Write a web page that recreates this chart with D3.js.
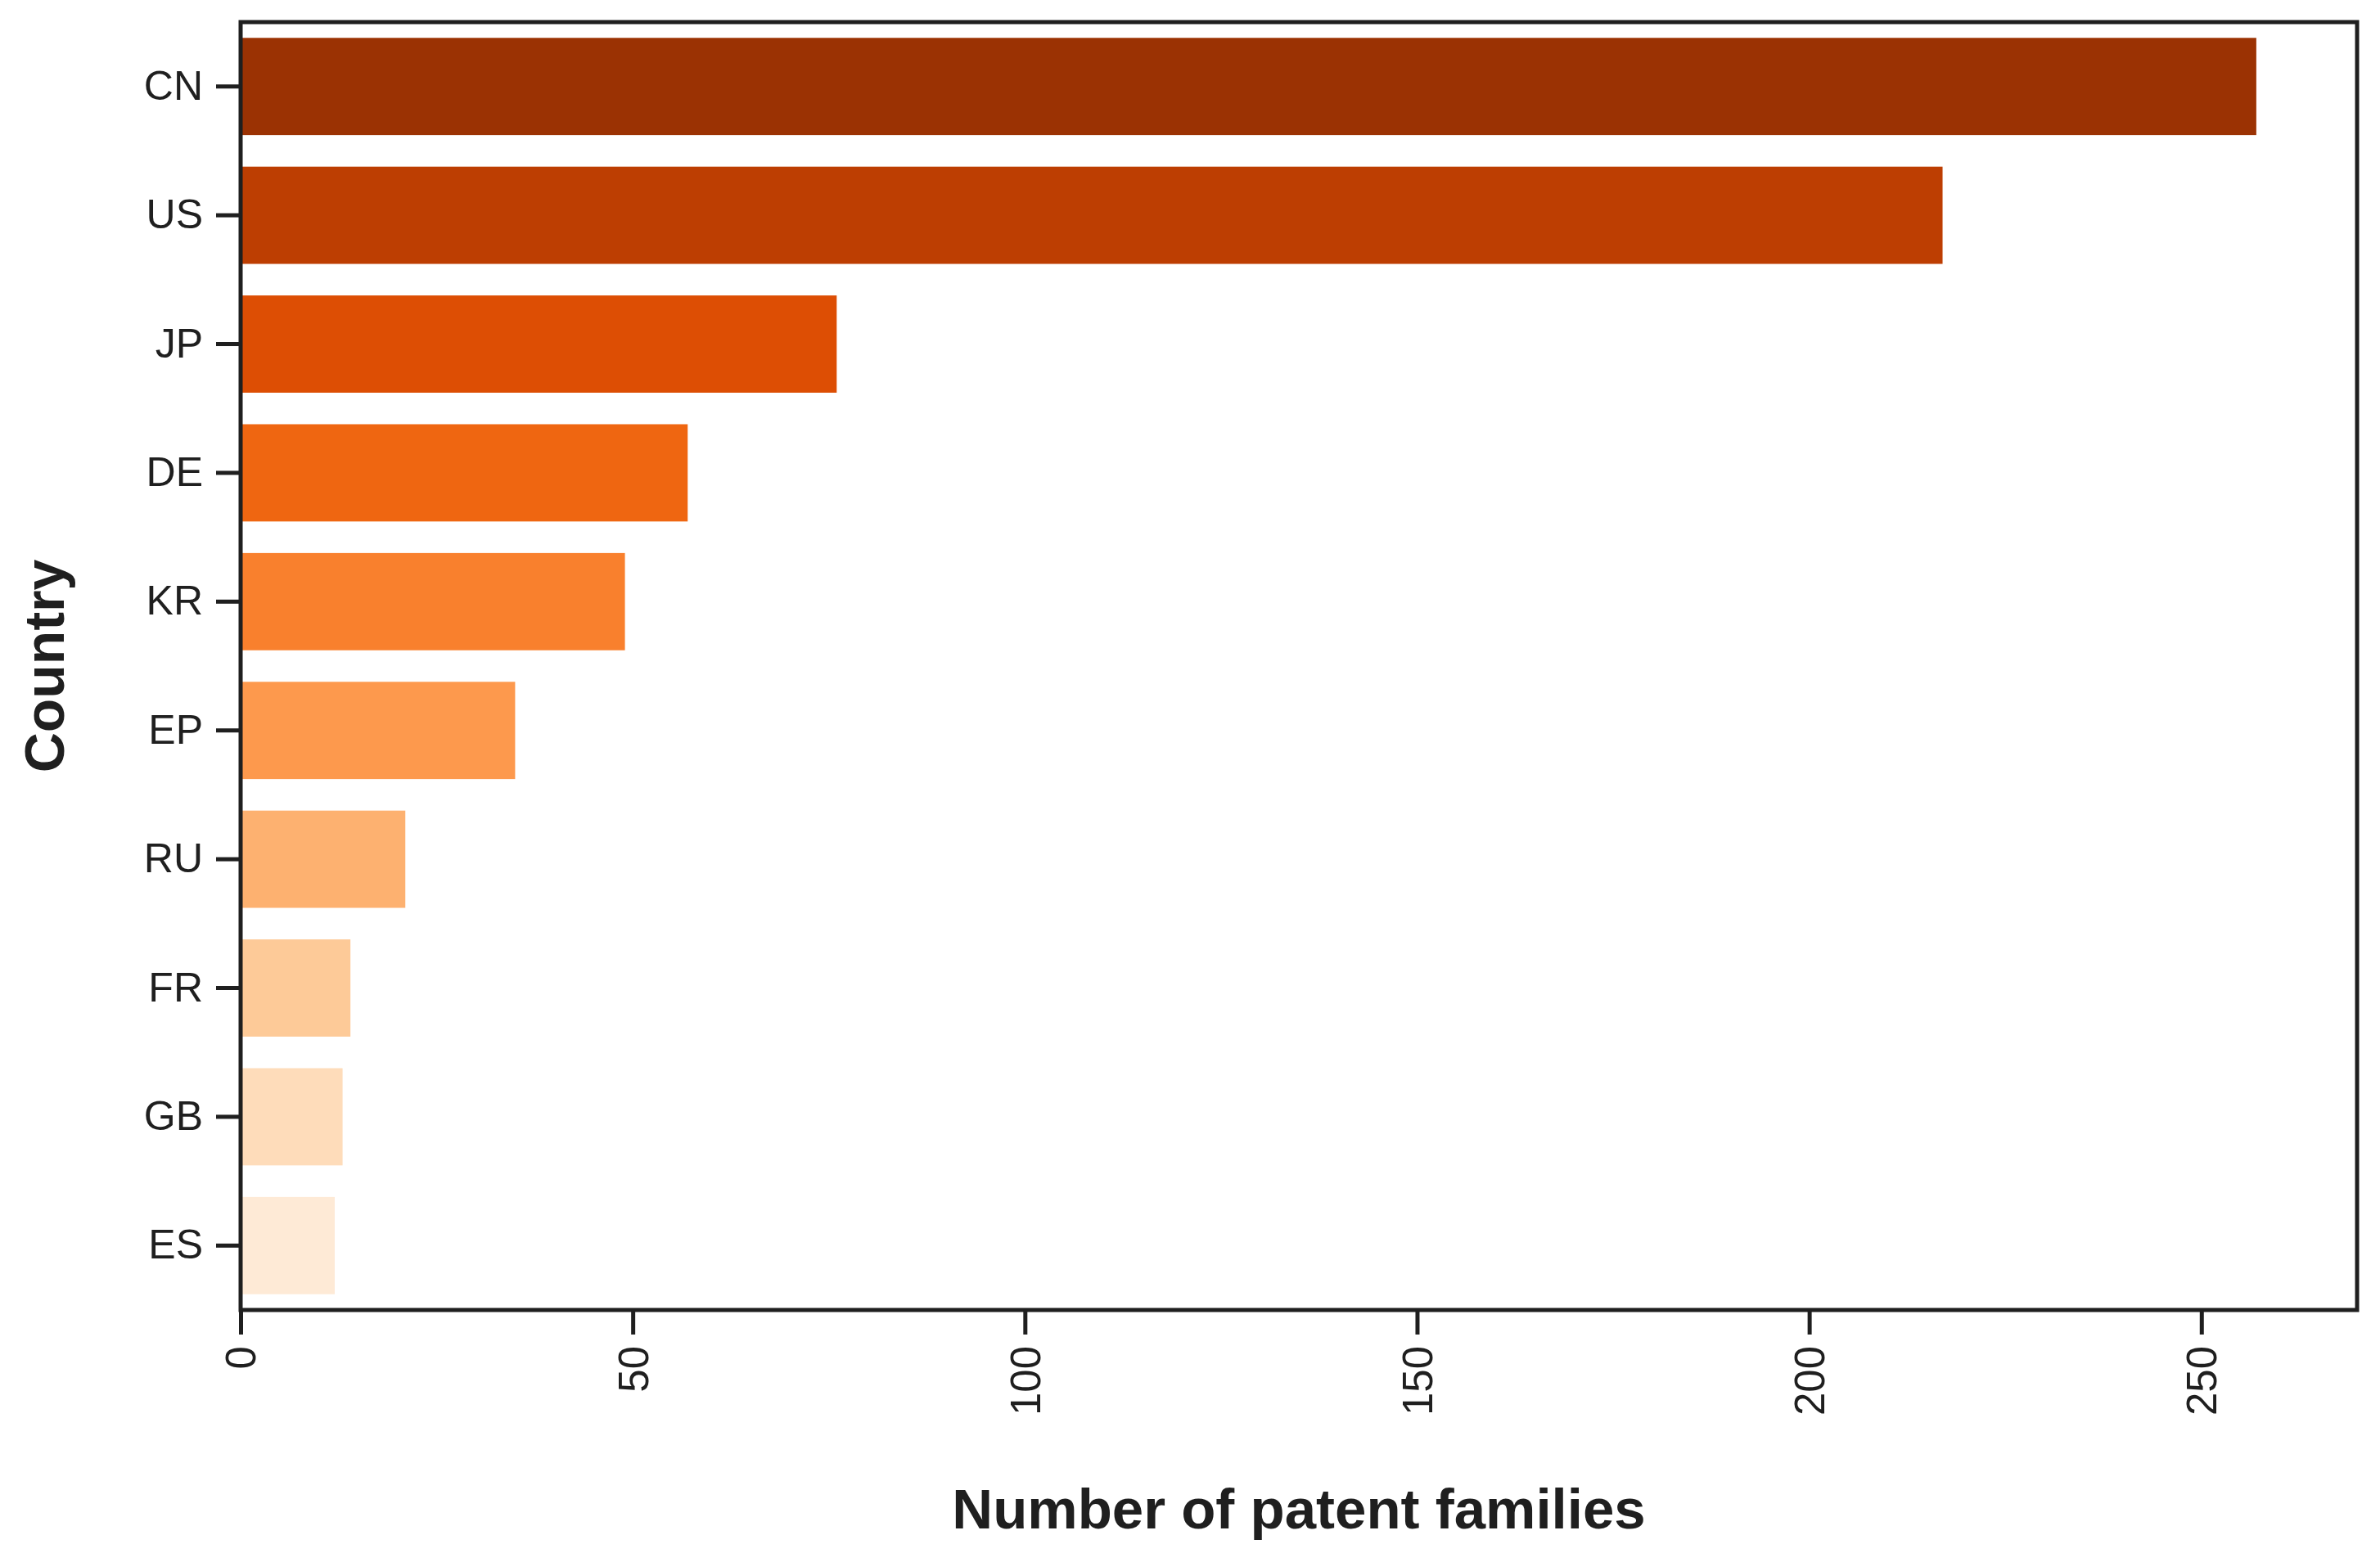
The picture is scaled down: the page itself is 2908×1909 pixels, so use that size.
<!DOCTYPE html>
<html>
<head>
<meta charset="utf-8">
<script src="https://cdn.jsdelivr.net/npm/d3@7"></script>
<style>
  html, body { margin: 0; padding: 0; background: #ffffff; }
  svg { display: block; }
</style>
</head>
<body>
<svg id="chart" width="2908" height="1909"></svg>
<script>
// ---- data ----
const countries = ["CN", "US", "JP", "DE", "KR", "EP", "RU", "FR", "GB", "ES"];
const patentFamilies = [257, 217, 76, 57, 49, 35, 21, 14, 13, 12];
const xTickValues = [0, 50, 100, 150, 200, 250];
const xAxisTitle = "Number of patent families";
const yAxisTitle = "Country";

// ---- style ----
const brewerOranges = ["#fff5eb", "#fee6ce", "#fdd0a2", "#fdae6b", "#fd8d3c", "#f16913", "#d94801", "#a63603", "#7f2704"];
const W = 2908, H = 1909;
const margin = { left: 294, right: 28, top: 27, bottom: 308 };
const plotW = W - margin.left - margin.right;
const plotH = H - margin.top - margin.bottom;
const ink = "#1f1f1f";
const font = "'Liberation Sans', Arial, Helvetica, sans-serif";

const svg = d3.select("#chart");
const g = svg.append("g").attr("transform", `translate(${margin.left},${margin.top})`);

const xMax = d3.max(patentFamilies) * 1.05;
const x = d3.scaleLinear().domain([0, xMax]).range([0, plotW]);
const y = d3.scaleBand().domain(countries).range([0, plotH]).paddingInner(0.245).paddingOuter(0.1225);

// palette: matplotlib/seaborn style sampling of Oranges, reversed
const oranges = d3.scaleLinear().domain(d3.range(brewerOranges.length).map(i => i / (brewerOranges.length - 1))).range(brewerOranges);
const n = countries.length;
const color = d3.scaleOrdinal().domain(countries).range(countries.map((c, i) => oranges((n - i) / (n + 1))));

// bars
g.selectAll("rect.bar")
  .data(countries.map((c, i) => ({ c, v: patentFamilies[i] })))
  .join("rect")
  .attr("class", "bar")
  .attr("x", x(0))
  .attr("y", d => y(d.c))
  .attr("width", d => x(d.v) - x(0))
  .attr("height", y.bandwidth())
  .attr("fill", d => color(d.c));

// frame
g.append("rect")
  .attr("x", 0).attr("y", 0)
  .attr("width", plotW).attr("height", plotH)
  .attr("fill", "none")
  .attr("stroke", ink)
  .attr("stroke-width", 5);

// y axis
const yAxis = g.append("g")
  .call(d3.axisLeft(y).tickSize(30).tickPadding(16).tickSizeOuter(0));
yAxis.select(".domain").remove();
yAxis.selectAll(".tick line").attr("stroke", ink).attr("stroke-width", 5);
yAxis.selectAll(".tick text")
  .attr("fill", ink)
  .style("font-family", font)
  .style("font-size", "50px");

// x axis
const xAxis = g.append("g")
  .attr("transform", `translate(0,${plotH})`)
  .call(d3.axisBottom(x).tickValues(xTickValues).tickFormat(d3.format("d")).tickSize(30).tickPadding(14).tickSizeOuter(0));
xAxis.select(".domain").remove();
xAxis.selectAll(".tick line").attr("stroke", ink).attr("stroke-width", 5);
xAxis.selectAll(".tick text")
  .attr("fill", ink)
  .attr("y", 0)
  .attr("x", -(30 + 14))
  .attr("dy", "0.35em")
  .attr("transform", "rotate(-90)")
  .style("text-anchor", "end")
  .style("font-family", font)
  .style("font-size", "51px");

// axis titles
svg.append("text")
  .attr("x", margin.left + plotW / 2)
  .attr("y", 1868)
  .attr("text-anchor", "middle")
  .attr("fill", ink)
  .style("font-family", font)
  .style("font-weight", "bold")
  .style("font-size", "69px")
  .text(xAxisTitle);

svg.append("text")
  .attr("transform", `translate(78,${margin.top + plotH / 2}) rotate(-90)`)
  .attr("text-anchor", "middle")
  .attr("fill", ink)
  .style("font-family", font)
  .style("font-weight", "bold")
  .style("font-size", "68px")
  .text(yAxisTitle);
</script>
</body>
</html>
